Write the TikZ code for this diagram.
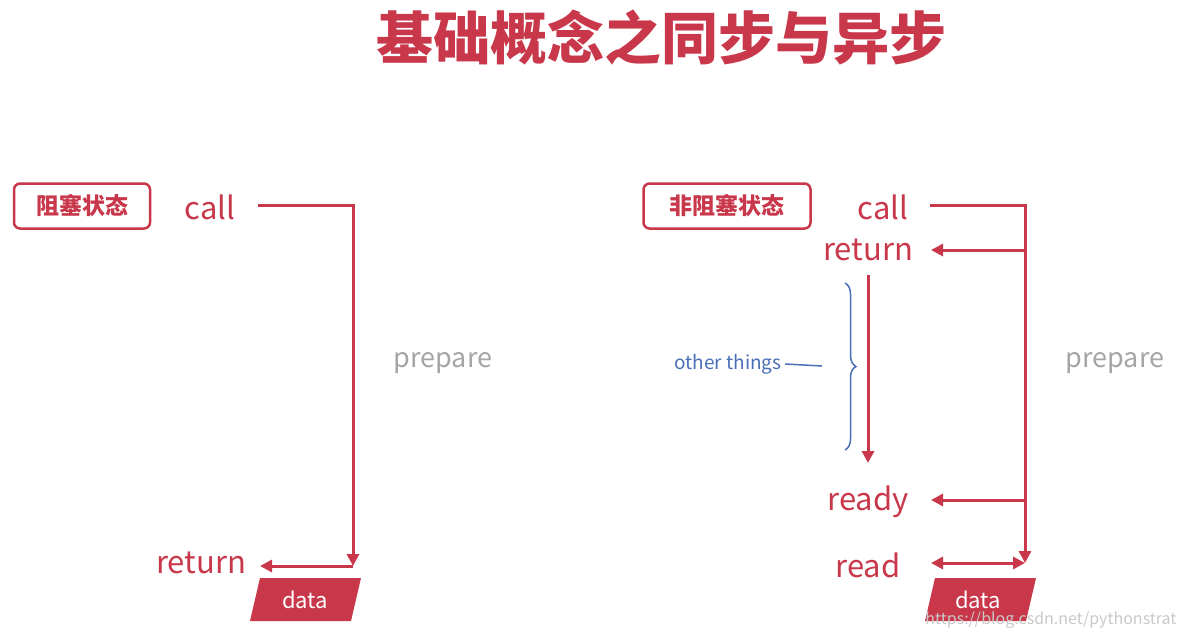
\documentclass[tikz,border=0pt]{standalone}
\usepackage{fontspec}
\setmainfont{Noto Sans CJK SC}
\usetikzlibrary{arrows.meta,decorations.pathreplacing}
\definecolor{rd}{HTML}{C8374A}
\definecolor{bl}{HTML}{4A6FB5}
\definecolor{gy}{HTML}{A5A5A5}
\tikzset{
 ln/.style={draw=rd,line width=3pt},
 ar/.style={ln,-{Triangle[length=12pt,width=12pt]}},
 wd/.style={text=rd,font=\fontsize{31}{34}\selectfont,inner sep=0pt},
 lab/.style={draw=rd,line width=2.5pt,rounded corners=6pt,text=rd,font=\bfseries\fontsize{23}{26}\selectfont,minimum height=45pt},
 prep/.style={text=gy,font=\fontsize{27}{30}\selectfont},
 dat/.style={fill=rd},
 dtx/.style={text=white,font=\fontsize{22}{24}\selectfont}
}
\begin{document}
\begin{tikzpicture}[x=1pt,y=-1pt]
\useasboundingbox (0,0) rectangle (1183,637);
\node[text=rd,font=\bfseries\fontsize{57}{62}\selectfont] (title) at (661,38) {基础概念之同步与异步};
% left
\node[lab,minimum width=136pt] (b1) at (82,206) {阻塞状态};
\node[wd] (call1) at (210,207) {call};
\node[wd] (ret1) at (201,563) {return};
\node[prep] (p1) at (443,363) {prepare};
\coordinate (c1a) at (258,205);
\coordinate (c1b) at (353,205);
\coordinate (c1c) at (353,566);
\coordinate (c1d) at (260,566);
\draw[ar] (c1a) -- (c1b) -- (c1c);
\draw[ar] (c1c) -- (c1d);
\path[dat] (260,578) -- (361,578) -- (351,621) -- (250,621) -- cycle;
\node[dtx] (d1) at (305,600) {data};
% right
\node[lab,minimum width=167pt] (b2) at (727,206) {非阻塞状态};
\node[wd] (call2) at (883,207) {call};
\node[wd] (ret2) at (868,250) {return};
\node[wd] (rdy) at (868,502) {ready};
\node[wd] (rd) at (868,565) {read};
\node[prep] (p2) at (1115,363) {prepare};
\coordinate (a) at (930,205);
\coordinate (b) at (1025,205);
\coordinate (c) at (1025,563);
\coordinate (r1) at (1025,250);
\coordinate (r2) at (931,250);
\coordinate (y1) at (1025,500);
\coordinate (y2) at (931,500);
\coordinate (e2) at (931,563);
\draw[ar] (a) -- (b) -- (c);
\draw[ar] (r1) -- (r2);
\draw[ar] (y1) -- (y2);
\draw[ln,{Triangle[length=12pt,width=12pt]}-{Triangle[length=12pt,width=12pt]}] (e2) -- (c);
\coordinate (v1) at (868,275);
\coordinate (v2) at (868,463);
\draw[ar] (v1) -- (v2);
\coordinate (br1) at (845,283);
\coordinate (br2) at (845,450);
\draw[bl,line width=1.5pt,decorate,decoration={brace,amplitude=11pt,aspect=0.5}] (br1) -- (br2);
\node[text=bl,font=\fontsize{19}{22}\selectfont] (ot) at (728,364) {other things};
\coordinate (bt) at (822,366);
\draw[bl,line width=1.5pt] (ot.east) -- (bt);
\path[dat] (935,578) -- (1036,578) -- (1026,621) -- (925,621) -- cycle;
\node[dtx] (d2) at (978,600) {data};
\node[text=gy!60,font=\fontsize{16}{18}\selectfont,anchor=east] (wm) at (1180,620) {https://blog.csdn.net/pythonstrat};
\end{tikzpicture}
\end{document}
